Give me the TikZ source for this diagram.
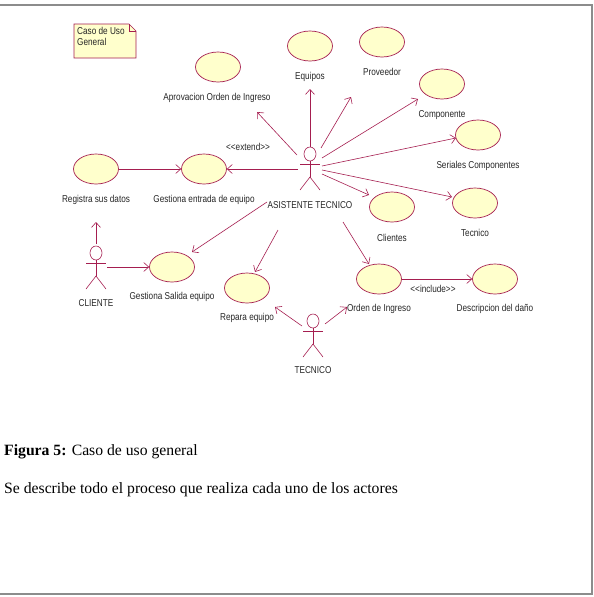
\documentclass[tikz,border=0pt]{standalone}
\usepackage{fontspec}
\setmainfont{Liberation Serif}
\newfontfamily\diagfont[FakeStretch=0.82]{Liberation Sans}
\usetikzlibrary{shapes.geometric,arrows.meta,calc}
\definecolor{umlline}{RGB}{165,30,80}
\definecolor{umlfill}{RGB}{255,255,204}
\definecolor{framegray}{RGB}{140,140,140}
\tikzset{
  uc/.style={ellipse,draw=umlline,fill=umlfill,line width=0.7pt,minimum width=45pt,minimum height=30pt,inner sep=0pt},
  lbl/.style={inner sep=0pt,font=\diagfont\fontsize{10}{11}\selectfont,text=black!85},
  actorbox/.style={inner sep=0pt,minimum size=1pt},
  assoc/.style={draw=umlline,line width=0.6pt,-{Straight Barb[length=5pt,width=9pt,line width=0.6pt]}},
  stick/.style={draw=umlline,line width=0.6pt},
}
\newcommand{\stickfig}[1]{%
  \draw[stick] (#1) ellipse (6pt and 7pt);
  \draw[stick] ($(#1)+(-10,10)$) -- ($(#1)+(10,10)$);
  \draw[stick] ($(#1)+(0,7)$) -- ($(#1)+(0,23)$);
  \draw[stick] ($(#1)+(-10,36)$) -- ($(#1)+(0,23)$) -- ($(#1)+(10,36)$);
}
\begin{document}
\begin{tikzpicture}[x=1pt,y=-1pt]
\useasboundingbox (0,0) rectangle (594,597);
% frame
\draw[framegray,line width=1.5pt] (0,5) -- (592,5) -- (592,594) -- (0,594);
% note
\draw[umlline,fill=umlfill,line width=0.7pt] (74,24) -- (129,24) -- (136,31) -- (136,58) -- (74,58) -- cycle;
\draw[umlline,line width=0.7pt] (129,24) -- (129,31) -- (136,31);
\node[lbl,align=left,anchor=north west] (note) at (77,27) {Caso de Uso\\General};
% use cases
\node[uc] (aprov) at (218,67) {};
\node[lbl] (aprovL) at (217,98) {Aprovacion Orden de Ingreso};
\node[uc] (equipos) at (310,46) {};
\node[lbl] (equiposL) at (310,77) {Equipos};
\node[uc] (prov) at (382,42) {};
\node[lbl] (provL) at (382,72) {Proveedor};
\node[uc] (comp) at (442,84) {};
\node[lbl] (compL) at (442,115) {Componente};
\node[uc] (seri) at (478,135) {};
\node[lbl] (seriL) at (478,166) {Seriales Componentes};
\node[uc] (registra) at (96,169) {};
\node[lbl] (registraL) at (96,200) {Registra sus datos};
\node[uc] (entrada) at (204,169) {};
\node[lbl] (entradaL) at (204,200) {Gestiona entrada de equipo};
\node[uc] (clientes) at (392,207) {};
\node[lbl] (clientesL) at (392,238) {Clientes};
\node[uc] (tecnico) at (475,203) {};
\node[lbl] (tecnicoL) at (475,233) {Tecnico};
\node[uc] (orden) at (379,279) {};
\node[lbl] (ordenL) at (379,309) {Orden de Ingreso};
\node[uc] (desc) at (495,279) {};
\node[lbl] (descL) at (495,309) {Descripcion del daño};
\node[uc] (salida) at (172,267) {};
\node[lbl] (salidaL) at (172,297) {Gestiona Salida equipo};
\node[uc] (repara) at (247,288) {};
\node[lbl] (reparaL) at (247,318) {Repara equipo};
% actors
\node[actorbox] (asis) at (310,154) {};
\stickfig{asis}
\node[lbl] (asisL) at (310,205) {ASISTENTE TECNICO};
\node[actorbox] (cli) at (96,253) {};
\stickfig{cli}
\node[lbl] (cliL) at (96,303) {CLIENTE};
\node[actorbox] (tec) at (313,321) {};
\stickfig{tec}
\node[lbl] (tecL) at (313,370) {TECNICO};
% stereotype labels
\node[lbl] (extendL) at (248,147) {<{}<extend>{}>};
\node[lbl] (includeL) at (433,289) {<{}<include>{}>};
% connectors
\draw[assoc] ($(asis)+(-13,1)$) -- ($(aprovL)+(40,14)$);
\draw[assoc] ($(asis)+(0,-7)$) -- ($(equiposL)+(0,12)$);
\draw[assoc] ($(asis)+(11,-6)$) -- ($(provL)+(-31,25)$);
\draw[assoc] ($(asis)+(12,4)$) -- ($(compL)+(-24,-16)$);
\draw[assoc] ($(asis)+(12,12)$) -- ($(seri)+(-22,3)$);
\draw[assoc] ($(asis)+(12,16)$) -- ($(tecnico)+(-23,-6)$);
\draw[assoc] ($(asis)+(12,20)$) -- ($(clientes)+(-23,-12)$);
\draw[assoc] ($(asis)+(33,68)$) -- ($(orden)+(-10,-15)$);
\draw[assoc] ($(asis)+(-32,76)$) -- ($(repara)+(8,-16)$);
\draw[assoc] ($(asis)+(-43,48)$) -- ($(salida)+(20,-15)$);
\draw[assoc] ($(asis)+(-12,15)$) -- (entrada.east);
\draw[assoc] (registra.east) -- (entrada.west);
\draw[assoc] ($(cli)+(0,-9)$) -- ($(registraL)+(0,22)$);
\draw[assoc] ($(cli)+(11,14)$) -- (salida.west);
\draw[assoc] ($(tec)+(-11,5)$) -- ($(reparaL)+(28,-11)$);
\draw[assoc] ($(tec)+(12,3)$) -- ($(ordenL)+(-32,-2)$);
\draw[assoc] (orden.east) -- (desc.west);
% caption
\node[anchor=west,inner sep=0pt,font=\fontsize{15.7}{18}\selectfont] (cap1) at (4,452) {\textbf{Figura 5:} Caso de uso general};
\node[anchor=west,inner sep=0pt,font=\fontsize{15.7}{18}\selectfont] (cap2) at (4,490) {Se describe todo el proceso que realiza cada uno de los actores};
\end{tikzpicture}
\end{document}
